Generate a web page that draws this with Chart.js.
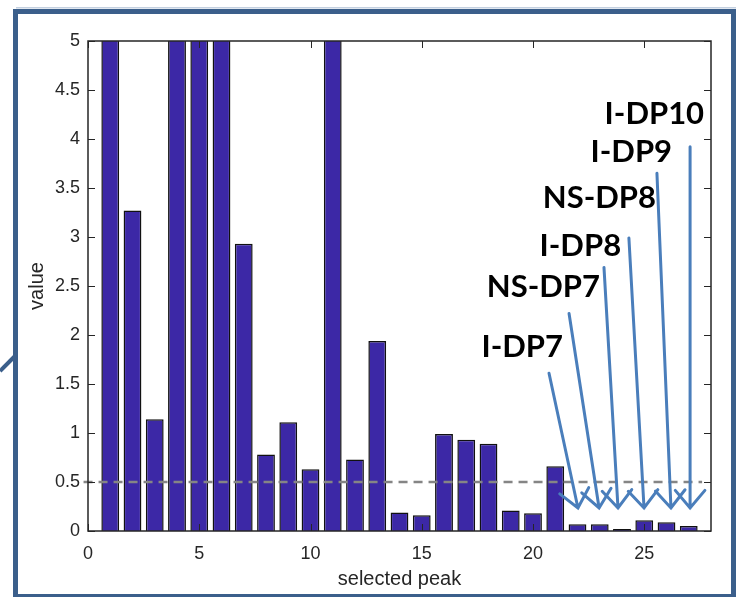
<!DOCTYPE html>
<html>
<head>
<meta charset="utf-8">
<script src="https://cdn.jsdelivr.net/npm/chart.js@4/dist/chart.umd.min.js"></script>
<style>
  html, body { margin: 0; padding: 0; background: #fff; }
  #wrap { width: 736px; height: 597px; }
</style>
</head>
<body>
<div id="wrap"><canvas id="chart" width="736" height="597"></canvas></div>
<script>
// peaks 1..27, bars above 5 are cut off by the axis
const peakIndex = [1, 2, 3, 4, 5, 6, 7, 8, 9, 10, 11, 12, 13, 14, 15, 16, 17, 18, 19, 20, 21, 22, 23, 24, 25, 26, 27];
const peakValue = [6, 3.27, 1.14, 6, 6, 6, 2.93, 0.78, 1.11, 0.63, 6, 0.73, 1.94, 0.19, 0.16, 0.99, 0.93, 0.89, 0.21, 0.18, 0.66, 0.07, 0.07, 0.02, 0.11, 0.09, 0.05];

// threshold line
const thresholdX = [-0.2, 27.6];
const thresholdY = [0.5, 0.5];

const xTicks = [0, 5, 10, 15, 20, 25];
const yTicks = [0, 0.5, 1, 1.5, 2, 2.5, 3, 3.5, 4, 4.5, 5];

// annotations (data units): label right edge / centre, arrow start and tip
const noteText = ['I-DP7', 'NS-DP7', 'I-DP8', 'NS-DP8', 'I-DP9', 'I-DP10'];
const noteX = [21.35, 23.01, 23.96, 25.53, 26.25, 27.69];
const noteY = [1.89, 2.5, 2.92, 3.41, 3.88, 4.27];
const arrowFromX = [20.72, 21.62, 23.19, 24.31, 25.57, 27.06];
const arrowFromY = [1.61, 2.22, 2.69, 2.99, 3.65, 3.92];
const arrowToX = [22.02, 22.97, 23.82, 24.99, 26.2, 27.06];
const arrowToY = [0.235, 0.235, 0.235, 0.235, 0.235, 0.235];

const axisColor = '#262626';
const arrowColor = '#4a7ebb';
const frameColor = '#3b5f8b';

const boxPlugin = {
  id: 'box',
  beforeDraw(chart) {
    const ctx = chart.ctx;
    ctx.save();
    ctx.fillStyle = '#fff';
    ctx.fillRect(0, 0, chart.width, chart.height);
    ctx.restore();
  },
  afterDatasetsDraw(chart) {
    const ctx = chart.ctx;
    const a = chart.chartArea;
    const xs = chart.scales.x, ys = chart.scales.y;
    ctx.save();
    ctx.strokeStyle = axisColor;
    ctx.lineWidth = 1.5;
    ctx.strokeRect(a.left, a.top, a.right - a.left, a.bottom - a.top);
    ctx.lineWidth = 1;
    ctx.beginPath();
    xTicks.forEach(v => {
      const px = Math.round(xs.getPixelForValue(v)) + 0.5;
      ctx.moveTo(px, a.bottom); ctx.lineTo(px, a.bottom - 7);
      ctx.moveTo(px, a.top); ctx.lineTo(px, a.top + 7);
    });
    yTicks.forEach(v => {
      const py = Math.round(ys.getPixelForValue(v)) + 0.5;
      ctx.moveTo(a.left, py); ctx.lineTo(a.left + 7, py);
      ctx.moveTo(a.right, py); ctx.lineTo(a.right - 7, py);
    });
    ctx.stroke();
    ctx.restore();
  },
  afterDraw(chart) {
    const ctx = chart.ctx;
    const xs = chart.scales.x, ys = chart.scales.y;
    ctx.save();
    // arrows
    ctx.strokeStyle = arrowColor;
    ctx.lineWidth = 3;
    ctx.lineCap = 'round';
    for (let i = 0; i < noteText.length; i++) {
      const x0 = xs.getPixelForValue(arrowFromX[i]), y0 = ys.getPixelForValue(arrowFromY[i]);
      const x1 = xs.getPixelForValue(arrowToX[i]), y1 = ys.getPixelForValue(arrowToY[i]);
      const ang = Math.atan2(y1 - y0, x1 - x0);
      const len = 23, spread = 0.7;
      ctx.beginPath();
      ctx.moveTo(x0, y0);
      ctx.lineTo(x1, y1);
      ctx.moveTo(x1 - len * Math.cos(ang - spread), y1 - len * Math.sin(ang - spread));
      ctx.lineTo(x1, y1);
      ctx.lineTo(x1 - len * Math.cos(ang + spread), y1 - len * Math.sin(ang + spread));
      ctx.stroke();
    }
    // labels
    ctx.fillStyle = '#000';
    ctx.font = 'bold 31px Lato, "Open Sans", sans-serif';
    ctx.textAlign = 'right';
    ctx.textBaseline = 'alphabetic';
    for (let i = 0; i < noteText.length; i++) {
      ctx.fillText(noteText[i], xs.getPixelForValue(noteX[i]), ys.getPixelForValue(noteY[i]) + 11);
    }
    // slide frame
    ctx.fillStyle = '#c3d0e0';
    ctx.fillRect(16, 7, 720, 1.5);
    ctx.fillStyle = frameColor;
    ctx.fillRect(13, 9, 723, 5);
    ctx.fillRect(13, 9, 5, 588);
    ctx.fillRect(731, 9, 5, 588);
    ctx.fillRect(13, 594, 723, 3);
    ctx.strokeStyle = frameColor;
    ctx.lineWidth = 4;
    ctx.lineCap = 'butt';
    ctx.beginPath();
    ctx.moveTo(0, 371);
    ctx.lineTo(16, 355);
    ctx.stroke();
    ctx.restore();
  }
};

new Chart(document.getElementById('chart'), {
  data: {
    datasets: [
      {
        type: 'line',
        data: thresholdX.map((x, i) => ({ x: x, y: thresholdY[i] })),
        borderColor: '#858585',
        borderWidth: 2.5,
        borderDash: [9, 6],
        pointRadius: 0,
        clip: false,
        order: 0
      },
      {
        type: 'bar',
        data: peakIndex.map((x, i) => ({ x: x, y: peakValue[i] })),
        backgroundColor: '#3c28a6',
        borderColor: '#111111',
        borderWidth: 1.5,
        barPercentage: 0.8,
        categoryPercentage: 1,
        clip: 0,
        order: 1
      }
    ]
  },
  options: {
    responsive: false,
    animation: false,
    events: [],
    layout: { padding: { top: 41, right: 25, left: 0, bottom: 0 } },
    plugins: { legend: { display: false }, tooltip: { enabled: false } },
    scales: {
      x: {
        type: 'linear',
        offset: false,
        min: 0,
        max: 28,
        afterBuildTicks: s => { s.ticks = xTicks.map(v => ({ value: v })); },
        afterFit: s => { s.height = 66; },
        grid: { display: false, drawTicks: false, offset: false },
        border: { display: false },
        ticks: {
          padding: 12,
          color: axisColor,
          font: { family: '"Liberation Sans", Arial, sans-serif', size: 18 },
          callback: v => String(v),
          maxRotation: 0
        },
        title: {
          display: true,
          text: 'selected peak',
          color: axisColor,
          font: { family: '"Liberation Sans", Arial, sans-serif', size: 20 },
          padding: 6
        }
      },
      y: {
        min: 0,
        max: 5,
        afterBuildTicks: s => { s.ticks = yTicks.map(v => ({ value: v })); },
        afterFit: s => { s.width = 88; },
        grid: { display: false, drawTicks: false },
        border: { display: false },
        ticks: {
          padding: 8,
          color: axisColor,
          font: { family: '"Liberation Sans", Arial, sans-serif', size: 18 },
          callback: v => String(v)
        },
        title: {
          display: true,
          text: 'value',
          color: axisColor,
          font: { family: '"Liberation Sans", Arial, sans-serif', size: 20 },
          padding: 25
        }
      }
    }
  },
  plugins: [boxPlugin]
});
</script>
</body>
</html>
